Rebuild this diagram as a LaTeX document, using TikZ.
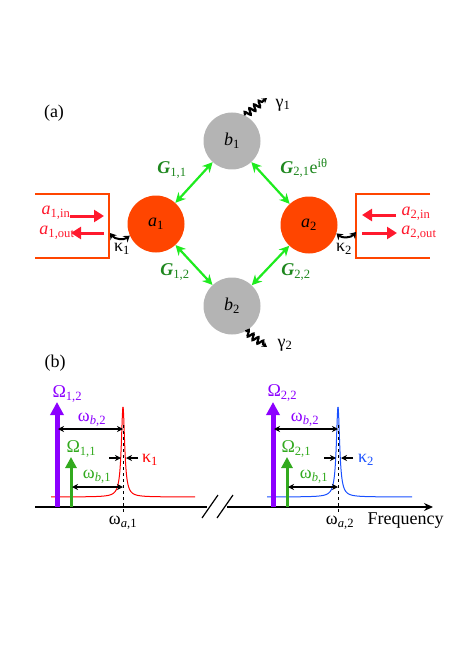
\documentclass[tikz,border=0pt]{standalone}
\usepackage{fontspec}
\setmainfont{Liberation Serif}
\usetikzlibrary{arrows.meta,decorations.pathmorphing}
\definecolor{cavred}{RGB}{255,69,0}
\definecolor{mechgray}{RGB}{180,180,180}
\definecolor{brightgreen}{RGB}{30,235,30}
\definecolor{dkgreen}{RGB}{30,135,30}
\definecolor{txtred}{RGB}{255,25,45}
\definecolor{purp}{RGB}{140,0,255}
\definecolor{pgreen}{RGB}{50,170,30}
\definecolor{pblue}{RGB}{25,80,255}
\tikzset{
  mode/.style={circle, inner sep=0pt, minimum size=57pt},
  garrow/.style={brightgreen, line width=2.2pt, {Stealth[length=10pt,width=10pt]}-{Stealth[length=10pt,width=10pt]}},
  glabel/.style={dkgreen, font=\fontsize{18}{20}\selectfont\bfseries},
  boxline/.style={cavred, line width=2pt},
  redarrow/.style={txtred, line width=3pt, -{Triangle[length=10pt,width=12pt]}},
  redlabel/.style={txtred},
  karrow/.style={black, line width=2pt, {Stealth[length=6pt,width=8pt]}-{Stealth[length=6pt,width=8pt]}},
  wavy/.style={black, line width=2.2pt, decorate, decoration={snake, amplitude=3pt, segment length=6pt, post length=4pt}, -{Stealth[length=5pt,width=6pt]}},
  dimarrow/.style={black, line width=1.2pt, {Stealth[length=6pt,width=6pt]}-{Stealth[length=6pt,width=6pt]}},
  karr/.style={black, line width=1.2pt, -{Stealth[length=6pt,width=6pt]}},
}
\begin{document}
\begin{tikzpicture}[x=1pt,y=-1pt, font=\fontsize{18}{20}\selectfont]
\useasboundingbox (0,0) rectangle (464,655);

% ---------- panel (a) ----------
\node (lab-a) at (54,113) {(a)};

\node[mode, fill=mechgray] (b1) at (232,141) {\textit{b}\textsubscript{1}};
\node[mode, fill=mechgray] (b2) at (232,306) {\textit{b}\textsubscript{2}};
\node[mode, fill=cavred] (a1) at (156,224) {\textit{a}\textsubscript{1}};
\node[mode, fill=cavred] (a2) at (309,225) {\textit{a}\textsubscript{2}};

\draw[garrow] (a1) -- (b1);
\draw[garrow] (a2) -- (b1);
\draw[garrow] (a1) -- (b2);
\draw[garrow] (a2) -- (b2);

\node[glabel] (g11) at (172,170) {\textit{G}\textsubscript{\mdseries 1,1}};
\node[glabel] (g21) at (304,168) {\textit{G}\textsubscript{\mdseries 2,1}{\mdseries e\textsuperscript{iθ}}};
\node[glabel] (g12) at (175,272) {\textit{G}\textsubscript{\mdseries 1,2}};
\node[glabel] (g22) at (296,272) {\textit{G}\textsubscript{\mdseries 2,2}};

% dissipation of mechanical modes
\coordinate (g1end) at (267,98);
\coordinate (g2end) at (267,347);
\draw[wavy] (b1.63) -- (g1end);
\draw[wavy] (b2.-62) -- (g2end);
\node (gam1) at (283,105) {γ\textsubscript{1}};
\node (gam2) at (285,345) {γ\textsubscript{2}};

% waveguides
\draw[boxline] (35,194) -- (109,194) -- (109,258) -- (35,258);
\draw[boxline] (430,194) -- (356,194) -- (356,258) -- (430,258);

\coordinate (in1t) at (70,216);  \coordinate (in1h) at (104,216);
\coordinate (out1t) at (104,233); \coordinate (out1h) at (71,233);
\draw[redarrow] (in1t) -- (in1h);
\draw[redarrow] (out1t) -- (out1h);
\node[redlabel] (a1in) at (56,213) {\textit{a}\textsubscript{1,in}};
\node[redlabel] (a1out) at (57,233) {\textit{a}\textsubscript{1,out}};

\coordinate (in2t) at (396,215);  \coordinate (in2h) at (362,215);
\coordinate (out2t) at (362,233); \coordinate (out2h) at (397,233);
\draw[redarrow] (in2t) -- (in2h);
\draw[redarrow] (out2t) -- (out2h);
\node[redlabel] (a2in) at (416,214) {\textit{a}\textsubscript{2,in}};
\node[redlabel] (a2out) at (419,233) {\textit{a}\textsubscript{2,out}};

\coordinate (kL) at (110,233);
\coordinate (kR) at (356,232);
\draw[karrow] (kL) to[bend right=45] (a1.204);
\draw[karrow] (a2.-17) to[bend right=45] (kR);
\node (kap1) at (122,249) {κ\textsubscript{1}};
\node (kap2) at (344,249) {κ\textsubscript{2}};

% ---------- panel (b) ----------
\node (lab-b) at (55,363) {(b)};

% axis
\draw[black, line width=1.2pt] (35,507) -- (207,507);
\draw[black, line width=1.2pt, -{Stealth[length=9pt,width=8pt]}] (227,507) -- (433,507);
\draw[black, line width=1.2pt] (202,518) -- (218,495);
\draw[black, line width=1.2pt] (217,518) -- (233,495);

% resonances
\draw[red, line width=1pt] plot[domain=51:123, samples=200] (\x, {497-90*4/((\x-123)^2+4)});
\draw[red, line width=1pt] plot[domain=123:195, samples=200] (\x, {497-90*4/((\x-123)^2+4)});
\draw[pblue, line width=1pt] plot[domain=267:338, samples=200] (\x, {497-90*4/((\x-338)^2+4)});
\draw[pblue, line width=1pt] plot[domain=338:412, samples=200] (\x, {497-90*4/((\x-338)^2+4)});

\draw[black, dashed, line width=0.7pt] (123,425) -- (123,513);
\draw[black, dashed, line width=0.7pt] (338,425) -- (338,513);

% pumps left
\coordinate (p12b) at (57,507); \coordinate (p12t) at (57,402);
\coordinate (p11b) at (71,507); \coordinate (p11t) at (71,457);
\draw[purp, line width=5pt, -{Triangle[length=13pt,width=13pt]}] (p12b) -- (p12t);
\draw[pgreen, line width=3pt, -{Triangle[length=11pt,width=11pt]}] (p11b) -- (p11t);
\node[purp, anchor=west] (O12) at (49,394) {Ω\textsubscript{1,2}};
\node[pgreen, anchor=west] (O11) at (63,449) {Ω\textsubscript{1,1}};

\coordinate (wb2L) at (58,429); \coordinate (wb2R) at (123,429);
\coordinate (wb1L) at (72,487); \coordinate (wb1R) at (123,487);
\draw[dimarrow] (wb2L) -- (wb2R);
\draw[dimarrow] (wb1L) -- (wb1R);
\node[purp] (lwb2) at (92,420) {ω\textsubscript{\textit{b},2}};
\node[pgreen] (lwb1) at (97,477) {ω\textsubscript{\textit{b},1}};

\coordinate (k1a) at (109,458); \coordinate (k1b) at (121,458);
\coordinate (k1c) at (138,458); \coordinate (k1d) at (126,458);
\draw[karr] (k1a) -- (k1b);
\draw[karr] (k1c) -- (k1d);
\node[red] (lk1) at (150,460) {κ\textsubscript{1}};

% pumps right
\coordinate (p22b) at (273,507); \coordinate (p22t) at (273,402);
\coordinate (p21b) at (287,507); \coordinate (p21t) at (287,457);
\draw[purp, line width=5pt, -{Triangle[length=13pt,width=13pt]}] (p22b) -- (p22t);
\draw[pgreen, line width=3pt, -{Triangle[length=11pt,width=11pt]}] (p21b) -- (p21t);
\node[purp, anchor=west] (O22) at (264,393) {Ω\textsubscript{2,2}};
\node[pgreen, anchor=west] (O21) at (278,449) {Ω\textsubscript{2,1}};

\coordinate (wb2Lr) at (274,429); \coordinate (wb2Rr) at (338,429);
\coordinate (wb1Lr) at (288,487); \coordinate (wb1Rr) at (338,487);
\draw[dimarrow] (wb2Lr) -- (wb2Rr);
\draw[dimarrow] (wb1Lr) -- (wb1Rr);
\node[purp] (rwb2) at (305,420) {ω\textsubscript{\textit{b},2}};
\node[pgreen] (rwb1) at (314,477) {ω\textsubscript{\textit{b},1}};

\coordinate (k2a) at (324,458); \coordinate (k2b) at (336,458);
\coordinate (k2c) at (353,458); \coordinate (k2d) at (341,458);
\draw[karr] (k2a) -- (k2b);
\draw[karr] (k2c) -- (k2d);
\node[pblue] (lk2) at (366,460) {κ\textsubscript{2}};

% axis labels
\node (wa1) at (123,523) {ω\textsubscript{\textit{a},1}};
\node (wa2) at (340,523) {ω\textsubscript{\textit{a},2}};
\node[anchor=west] (freq) at (364,521) {Frequency};
\end{tikzpicture}
\end{document}
